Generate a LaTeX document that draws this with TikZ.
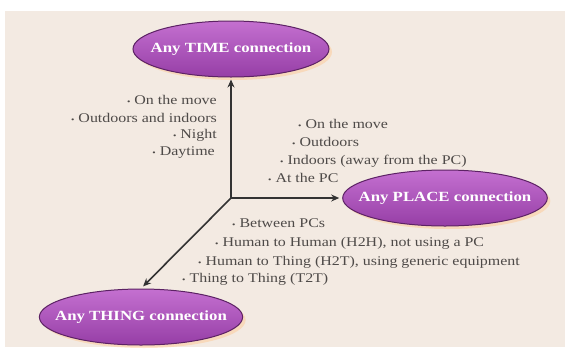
\documentclass[tikz,border=0pt]{standalone}
\usepackage{fontspec}
\setmainfont{Liberation Serif}
\newfontfamily\wideserif[FakeStretch=1.2]{Liberation Serif}
\usepackage{tikz}
\usetikzlibrary{positioning, arrows.meta, shapes.geometric, calc, shadows}
\definecolor{bgbeige}{RGB}{243, 234, 226}
\definecolor{conlight}{RGB}{196, 112, 208}
\definecolor{conpurple}{RGB}{150, 62, 166}
\definecolor{condark}{RGB}{92, 34, 100}
\definecolor{itemgray}{RGB}{78, 74, 72}
\newcommand{\bul}{{\fontsize{8}{8}\selectfont\textbullet}\ }
\tikzset{
  conn/.style={
    ellipse, draw=condark, line width=1pt,
    top color=conlight, bottom color=conpurple,
    minimum width=196pt, minimum height=56pt,
    inner xsep=-14pt, inner ysep=0pt,
    font=\wideserif\fontsize{14}{16}\selectfont\bfseries, text=white,
    drop shadow={shadow xshift=3pt, shadow yshift=-3pt,
                 fill=orange!45, opacity=0.45},
  },
  item/.style={inner sep=0pt, text=itemgray,
    font=\wideserif\fontsize{13.3}{17}\selectfont},
  axis/.style={draw=black!80, line width=1.6pt},
}

\begin{document}
\begin{tikzpicture}[x=1pt, y=-1pt, >={Stealth[length=8pt, width=7pt]}]

\fill[white] (0,0) rectangle (567,349);
\fill[bgbeige] (5,11) rectangle (565,347);
\useasboundingbox (0,0) rectangle (567,349);

\node[conn] (time) at (231,49) {Any TIME connection};
\node[conn] (place) at (445,198) {Any PLACE connection};
\node[conn] (thing) at (141,317) {Any THING connection};
\coordinate (o) at (231,198);

% time
\node[item, anchor=base east] (tm1) at (217,104) {\bul On the move};
\node[item, anchor=base east] (tm2) at (217,122) {\bul Outdoors and indoors};
\node[item, anchor=base east] (tm3) at (217,138) {\bul Night};
\node[item, anchor=base east] (tm4) at (215,155) {\bul Daytime};

% place
\node[item, anchor=base west] (pl1) at (298,128) {\bul On the move};
\node[item, anchor=base west] (pl2) at (292,146) {\bul Outdoors};
\node[item, anchor=base west] (pl3) at (280,164) {\bul Indoors (away from the PC)};
\node[item, anchor=base west] (pl4) at (268,182) {\bul At the PC};

% thing
\node[item, anchor=base west] (th1) at (232,227) {\bul Between PCs};
\node[item, anchor=base west] (th2) at (215,246) {\bul Human to Human (H2H), not using a PC};
\node[item, anchor=base west] (th3) at (198,265) {\bul Human to Thing (H2T), using generic equipment};
\node[item, anchor=base west] (th4) at (182,282) {\bul Thing to Thing (T2T)};

\draw[axis, ->, shorten >=2pt] (o) -- (time.south);
\draw[axis, ->, shorten >=3pt] (o) -- (place.west);
\draw[axis, ->, shorten >=3pt] (o) -- (thing.north);

\end{tikzpicture}
\end{document}
